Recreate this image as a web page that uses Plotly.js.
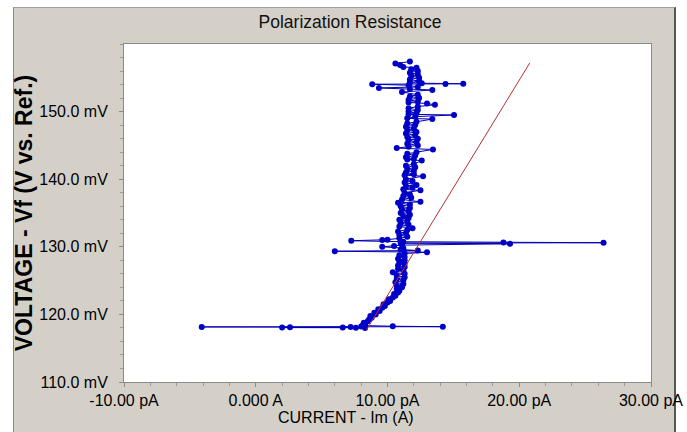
<!DOCTYPE html>
<html>
<head>
<meta charset="utf-8">
<script src="https://cdn.plot.ly/plotly-3.0.1.min.js"></script>
<style>
  html, body { margin: 0; padding: 0; background: #ffffff; }
  #frame { position: absolute; left: 13px; top: 7px; width: 663px; height: 425px;
           background: #d4d0c8; border-left: 1px solid #8a8a8a; border-top: 1px solid #a0a0a0;
           border-right: 2px solid #555555; box-sizing: border-box; }
  #chart { position: absolute; left: 0; top: 0; width: 687px; height: 432px; }
</style>
</head>
<body>
<div id="frame"></div>
<div id="chart"></div>
<script>
// Measured data: potential (mV) vs current (pA), in sweep order
const voltage_mV = [
  118.00, 118.03, 118.05, 118.08, 118.10, 118.12, 118.15, 118.18, 118.20, 118.25,
  118.35, 118.50, 118.75, 119.00, 119.25, 119.50, 119.75, 120.00, 120.25, 120.50,
  120.75, 121.00, 121.25, 121.50, 121.75, 122.00, 122.25, 122.50, 122.75, 123.00,
  123.25, 123.50, 123.75, 124.00, 124.25, 124.50, 124.75, 125.00, 125.25, 125.50,
  125.75, 126.00, 126.25, 126.50, 126.75, 127.00, 127.25, 127.50, 127.75, 128.00,
  128.25, 128.50, 128.75, 129.00, 129.20, 129.35, 129.45, 129.60, 129.80, 130.00,
  130.10, 130.25, 130.45, 130.55, 130.60, 130.65, 130.75, 130.90, 131.00, 131.05,
  131.25, 131.50, 131.75, 132.00, 132.25, 132.50, 132.75, 133.00, 133.25, 133.50,
  133.75, 134.00, 134.25, 134.50, 134.75, 135.00, 135.25, 135.50, 135.75, 136.00,
  136.25, 136.50, 136.65, 137.00, 137.25, 137.50, 137.75, 138.00, 138.35, 138.50,
  138.75, 139.00, 139.15, 139.50, 139.75, 140.00, 140.45, 140.60, 140.75, 141.00,
  141.25, 141.50, 141.75, 142.00, 142.25, 142.75, 142.90, 143.00, 143.25, 143.50,
  143.75, 144.00, 144.40, 144.60, 144.80, 145.00, 145.25, 145.50, 145.75, 146.00,
  146.25, 146.50, 146.75, 147.00, 147.25, 147.50, 147.75, 148.00, 148.25, 148.50,
  148.90, 149.00, 149.25, 149.50, 149.60, 149.75, 150.00, 150.25, 150.50, 150.75,
  151.00, 151.20, 151.35, 151.50, 151.75, 152.00, 152.25, 152.50, 152.90, 153.20,
  153.35, 153.50, 153.65, 153.90, 154.05, 154.10, 154.12, 154.20, 154.30, 154.50,
  154.75, 155.00, 155.25, 155.50, 155.75, 156.00, 156.25, 156.50, 156.60, 156.90,
  157.10, 157.40
];
const current_pA = [
  8.3, 7.6, 2.0, 6.6, 2.6, 7.2, -4.1, 14.2, 8.0, 10.4,
  8.1, 8.3, 8.2, 8.5, 8.6, 8.8, 8.7, 9.1, 9.0, 9.4,
  9.3, 9.6, 9.8, 9.7, 10.0, 10.2, 10.1, 10.4, 10.6, 10.5,
  10.8, 10.9, 10.7, 11.1, 10.7, 11.2, 10.6, 11.2, 10.7, 11.3,
  10.7, 11.3, 10.4, 11.2, 10.8, 11.3, 10.8, 11.3, 10.9, 11.3,
  10.8, 11.3, 10.9, 11.3, 13.0, 6.0, 12.3, 11.0, 11.2, 9.6,
  10.5, 11.1, 19.3, 11.0, 26.4, 18.8, 11.2, 7.25, 9.6, 10.0,
  10.9, 11.5, 10.9, 11.4, 10.8, 11.5, 11.9, 10.9, 11.6, 11.0,
  11.5, 10.9, 11.6, 11.2, 11.7, 11.0, 11.6, 11.1, 11.7, 11.0,
  11.7, 10.8, 12.5, 11.1, 11.8, 11.2, 11.7, 11.3, 12.5, 11.2,
  11.9, 11.4, 12.2, 11.3, 11.9, 11.4, 12.7, 11.3, 12.0, 11.4,
  12.0, 11.5, 12.1, 11.4, 12.0, 12.6, 11.5, 12.0, 11.4, 12.1,
  11.5, 12.2, 13.45, 10.7, 11.6, 12.3, 11.5, 12.2, 11.6, 12.3,
  11.5, 12.1, 11.4, 12.2, 11.5, 12.0, 11.4, 12.1, 11.5, 12.2,
  13.4, 11.5, 12.1, 15.05, 11.6, 12.2, 11.6, 12.3, 11.6, 12.3,
  13.6, 13.0, 11.6, 12.3, 11.6, 12.4, 11.7, 12.3, 11.1, 13.4,
  11.7, 9.35, 12.3, 11.6, 8.84, 14.4, 15.75, 12.6, 11.7, 12.4,
  11.7, 12.4, 11.8, 12.3, 11.7, 12.3, 11.8, 12.2, 11.2, 10.95,
  10.6, 11.7
];
// Linear fit line
const fitCurrent_pA = [8.4, 20.8];
const fitVoltage_mV = [117.7, 157.2];

// Axis ticks
const xTickVals = [-10, 0, 10, 20, 30];
const xTickText = ['-10.00 pA', '0.000 A', '10.00 pA', '20.00 pA', '30.00 pA'];
const yTickVals = [110, 120, 130, 140, 150];
const yTickText = ['110.0 mV', '120.0 mV', '130.0 mV', '140.0 mV', '150.0 mV'];

const FONT = 'Liberation Sans, Arial, Helvetica, sans-serif';

const traces = [
  {
    x: current_pA, y: voltage_mV, type: 'scatter', mode: 'lines+markers',
    line: { color: '#0000b4', width: 1 },
    marker: { color: '#0000c8', size: 6 },
    hoverinfo: 'skip'
  },
  {
    x: fitCurrent_pA, y: fitVoltage_mV, type: 'scatter', mode: 'lines',
    line: { color: '#b83030', width: 1 },
    hoverinfo: 'skip'
  }
];

const layout = {
  width: 687, height: 432,
  margin: { l: 124, r: 36, t: 44, b: 50 },
  paper_bgcolor: 'rgba(0,0,0,0)',
  plot_bgcolor: '#ffffff',
  showlegend: false,
  font: { family: FONT, color: '#000000', size: 16 },
  title: {
    text: 'Polarization Resistance',
    font: { family: FONT, size: 17.5, color: '#111111' },
    x: 350 / 687, xref: 'container', xanchor: 'center',
    y: 1 - 22 / 432, yref: 'container', yanchor: 'middle'
  },
  xaxis: {
    range: [-10, 30], autorange: false,
    tickmode: 'array', tickvals: xTickVals, ticktext: xTickText,
    ticks: 'outside', ticklen: 4, tickcolor: '#8a8a8a', tickwidth: 1,
    minor: { dtick: 2, ticks: 'outside', ticklen: 3, tickcolor: '#9a9a9a', showgrid: false },
    showgrid: false, zeroline: false,
    showline: true, linecolor: '#8a8a8a', linewidth: 1, mirror: true,
    tickfont: { family: FONT, size: 16, color: '#000000' },
    ticklabelstandoff: 0
  },
  yaxis: {
    range: [110, 160], autorange: false,
    tickmode: 'array', tickvals: yTickVals, ticktext: yTickText,
    ticks: 'outside', ticklen: 4, tickcolor: '#8a8a8a', tickwidth: 1,
    minor: { dtick: 2, ticks: 'outside', ticklen: 3, tickcolor: '#9a9a9a', showgrid: false },
    showgrid: false, zeroline: false,
    showline: true, linecolor: '#8a8a8a', linewidth: 1, mirror: true,
    tickfont: { family: FONT, size: 16, color: '#000000' },
    ticklabelstandoff: 8,
    title: {
      text: '<b>VOLTAGE - Vf (V vs. Ref.)</b>',
      font: { family: FONT, size: 23, color: '#000000' },
      standoff: 0
    }
  },
  annotations: [
    {
      text: 'CURRENT - Im (A)', xref: 'paper', yref: 'paper',
      x: (346 - 124) / 527, y: -(417 - 382) / 338,
      xanchor: 'center', yanchor: 'middle', showarrow: false,
      font: { family: FONT, size: 16, color: '#000000' }
    }
  ]
};

Plotly.newPlot('chart', traces, layout, { displayModeBar: false, staticPlot: true });
</script>
</body>
</html>
